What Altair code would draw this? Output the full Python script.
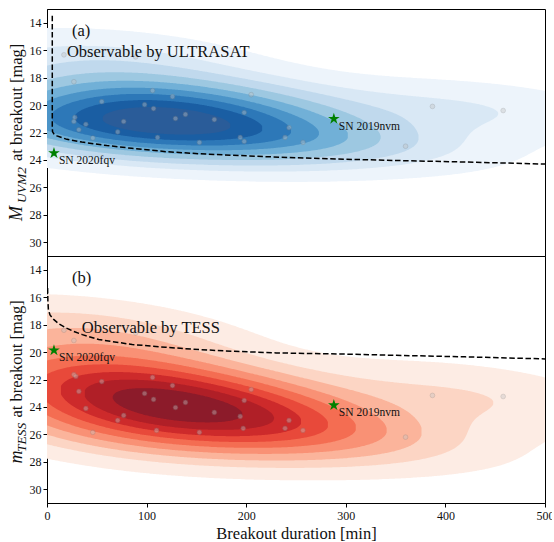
import numpy as np
import pandas as pd
import altair as alt

alt.data_transformers.disable_max_rows()

# ---------------- data ----------------
# Panel (a): ULTRASAT (UVM2) breakout magnitudes of the sample
dur_a = [17, 27, 89, 55, 28, 27, 39, 32, 46, 71, 77, 98, 106, 107, 111, 126, 129, 139,
         153, 168, 194, 198, 198, 205, 243, 239, 257, 387, 458, 360]
mag_a = [16.34, 18.3, 16.49, 19.75, 20.9, 21.2, 21.4, 21.8, 22.4, 21.96, 21.2, 19.97, 18.95,
         20.26, 22.36, 19.39, 20.98, 20.68, 22.72, 21.06, 22.36, 22.65, 20.55, 19.24, 21.65,
         22.36, 22.72, 20.1, 20.4, 23.0]

# Panel (b): TESS breakout magnitudes of the sample
dur_b = [17, 27, 89, 27, 29, 32, 39, 46, 55, 71, 77, 98, 106, 107, 110, 126, 129, 139,
         153, 168, 194, 198, 197, 205, 243, 239, 257, 387, 458, 360]
mag_b = [18.41, 19.16, 18.6, 21.64, 21.78, 22.87, 24.11, 25.85, 22.15, 24.98, 24.62, 23.02,
         21.85, 23.45, 25.71, 22.44, 24.04, 23.67, 25.85, 24.4, 24.69, 23.53, 25.56, 22.73,
         24.98, 25.56, 25.71, 23.16, 23.24, 26.2]

# Observed supernovae (green stars)
sn_names = ["SN 2020fqv", "SN 2019nvm"]
sn_dur = [7, 288]
sn_mag_a = [23.5, 21.0]
sn_mag_b = [19.87, 23.87]

# Detection limits (dashed curves)
lim_a_dur = [5.3, 5.3, 5.3, 5.3, 5.6, 7, 10, 20, 35, 60, 85, 120, 153, 200, 233, 300, 356, 420, 500]
lim_a_mag = [13.5, 17.0, 20.0, 21.6, 21.95, 22.1, 22.25, 22.5, 22.7, 22.95, 23.15, 23.4, 23.55,
             23.7, 23.8, 23.95, 24.05, 24.15, 24.3]
lim_b_dur = [0.6, 0.9, 1.4, 3, 7, 12, 19, 27, 35.5, 52, 85.6, 119, 152.6, 186, 230, 300, 357, 420, 500]
lim_b_mag = [15.33, 16.3, 16.9, 17.3, 17.64, 17.95, 18.24, 18.5, 18.73, 19.09, 19.45, 19.65,
             19.82, 19.94, 20.06, 20.15, 20.25, 20.35, 20.5]

y_ticks = [14, 16, 18, 20, 22, 24, 26, 28, 30]
x_ticks = [0, 100, 200, 300, 400, 500]

# 9 filled density bands (Blues / Reds colormaps)
blues = ["#edf4fb", "#d9e8f5", "#c0d9ed", "#9dc8e1", "#71b0d7", "#4b94c8", "#2d78b8", "#1a5ea3", "#2a5c99"]
reds = ["#fdece4", "#fcd5c4", "#fbb49b", "#f99175", "#f46d52", "#e8493a", "#cd2a2b", "#b01f27", "#8c1b2a"]

FONT = "Liberation Serif"
BW_ADJUST = 1.5
XW, YH = 498, 247
xscale = alt.Scale(domain=[0, 500], nice=False, zero=False)
yscale = alt.Scale(domain=[13, 31], reverse=True, nice=False, zero=False)


def kde_bands(xs, ys, nlev=10, thresh=0.05):
    """Gaussian KDE (Scott bandwidth) of the points, iso-proportion levels."""
    xs = np.asarray(xs, float)
    ys = np.asarray(ys, float)
    data = np.vstack([xs, ys])
    n = data.shape[1]
    factor = n ** (-1.0 / 6.0) * BW_ADJUST
    cov = np.cov(data) * factor ** 2
    inv = np.linalg.inv(cov)

    def dens(X, Y):
        out = np.zeros_like(X)
        for xi, yi in zip(xs, ys):
            dx = X - xi
            dy = Y - yi
            out += np.exp(-0.5 * (inv[0, 0] * dx * dx + 2 * inv[0, 1] * dx * dy + inv[1, 1] * dy * dy))
        return out

    bw = np.sqrt(np.diag(cov))
    gx = np.linspace(xs.min() - 3 * bw[0], xs.max() + 3 * bw[0], 200)
    gy = np.linspace(ys.min() - 3 * bw[1], ys.max() + 3 * bw[1], 200)
    GX, GY = np.meshgrid(gx, gy)
    D = dens(GX, GY)
    vals = np.sort(D.ravel())[::-1]
    cum = np.cumsum(vals) / vals.sum()
    q = np.linspace(thresh, 1, nlev)
    lv = np.take(vals, np.searchsorted(cum, 1 - q), mode="clip")

    xd = np.arange(0, 501, 1.0)
    yd = np.arange(12.0, 32.0001, 0.01)
    XD, YD = np.meshgrid(xd, yd)
    DD = dens(XD, YD)
    rows = []
    for k in range(nlev - 1):
        seg = 0
        prev = False
        for j, xv in enumerate(xd):
            idx = np.flatnonzero(DD[:, j] >= lv[k])
            if idx.size:
                if not prev:
                    seg += 1
                rows.append({"level": k, "seg": f"{k}-{seg}", "x": float(xv),
                             "lo": round(float(max(yd[idx[0]], 13.0)), 3),
                             "hi": round(float(min(yd[idx[-1]], 31.0)), 3)})
                prev = True
            else:
                prev = False
    return pd.DataFrame(rows)


STAR = ("M0,-1 L0.2245,-0.309 L0.951,-0.309 L0.3633,0.118 L0.588,0.809 L0,0.382 "
        "L-0.588,0.809 L-0.3633,0.118 L-0.951,-0.309 L-0.2245,-0.309 Z")


def panel(xs, ys, colors, sn_m, lim_x, lim_y, tag, obs_text, obs_x, obs_y,
          sym, sub, title_y, sub_y, rest_y, show_x):
    bands = kde_bands(xs, ys)
    if show_x:
        xaxis = alt.Axis(values=x_ticks, title="Breakout duration [min]", grid=False,
                         labelFlush=False, titlePadding=4, labelPadding=3)
    else:
        xaxis = None
    yaxis = alt.Axis(values=y_ticks, title=None, grid=False, labelPadding=2)
    X = lambda f: alt.X(f, scale=xscale, axis=xaxis)
    Y = lambda f: alt.Y(f, scale=yscale, axis=yaxis)

    layers = []
    for k in range(len(colors)):
        layers.append(
            alt.Chart(bands).transform_filter(alt.datum.level == k)
            .mark_area(color=colors[k], clip=True, interpolate="linear")
            .encode(x=X("x:Q"), y=Y("lo:Q"), y2="hi:Q", detail="seg:N")
        )

    pts = pd.DataFrame({"x": xs, "y": ys})
    layers.append(
        alt.Chart(pts).mark_point(shape="circle", filled=True, fill="#c4c4c4", stroke="#7a7a7a",
                                  strokeWidth=0.6, opacity=0.4, size=22)
        .encode(x=X("x:Q"), y=Y("y:Q"))
    )

    lim = pd.DataFrame({"x": lim_x, "y": lim_y, "i": list(range(len(lim_x)))})
    layers.append(
        alt.Chart(lim).mark_line(color="black", strokeWidth=1.5, strokeDash=[5.5, 2.6], clip=True)
        .encode(x=X("x:Q"), y=Y("y:Q"), order="i:Q")
    )

    sn = pd.DataFrame({"x": sn_dur, "y": sn_m, "name": sn_names})
    layers.append(
        alt.Chart(sn).mark_point(shape=STAR, filled=True, color="#008000", opacity=1, size=150)
        .encode(x=X("x:Q"), y=Y("y:Q"))
    )
    layers.append(
        alt.Chart(sn).mark_text(align="left", baseline="alphabetic", dx=5, dy=11,
                                font=FONT, fontSize=11.5, color="#111")
        .encode(x=X("x:Q"), y=Y("y:Q"), text="name:N")
    )

    ann = pd.DataFrame({"x": [25, obs_x], "y": [obs_y[0], obs_y[1]], "t": [tag, obs_text]})
    layers.append(
        alt.Chart(ann).mark_text(align="left", baseline="alphabetic", font=FONT, fontSize=16.5,
                                 color="#111")
        .encode(x=X("x:Q"), y=Y("y:Q"), text="t:N")
    )

    # y-axis title with italic symbol and subscript
    layers.append(
        alt.Chart(pd.DataFrame({"t": [sym]})).mark_text(
            align="left", baseline="alphabetic", angle=270, font=FONT, fontStyle="italic",
            fontSize=18, color="#111")
        .encode(x=alt.value(-25), y=alt.value(title_y), text="t:N")
    )
    layers.append(
        alt.Chart(pd.DataFrame({"t": [sub]})).mark_text(
            align="left", baseline="alphabetic", angle=270, font=FONT, fontStyle="italic",
            fontSize=13.5, color="#111")
        .encode(x=alt.value(-21.5), y=alt.value(sub_y), text="t:N")
    )
    layers.append(
        alt.Chart(pd.DataFrame({"t": ["at breakout [mag]"]})).mark_text(
            align="left", baseline="alphabetic", angle=270, font=FONT, fontSize=16.5,
            color="#111")
        .encode(x=alt.value(-25), y=alt.value(rest_y), text="t:N")
    )

    return alt.layer(*layers).properties(width=XW, height=YH)


top = panel(dur_a, mag_a, blues, sn_mag_a, lim_a_dur, lim_a_mag, "(a)",
            "Observable by ULTRASAT", 20, [14.97, 16.49], "M", "UVM2", 212, 194, 152, False)
bottom = panel(dur_b, mag_b, reds, sn_mag_b, lim_b_dur, lim_b_mag, "(b)",
               "Observable by TESS", 35, [14.95, 18.6], "m", "TESS", 207.5, 196, 161.5, True)

chart = (
    alt.vconcat(top, bottom, spacing=0, bounds="flush")
    .properties(padding={"left": 7, "top": 8, "right": -3, "bottom": 0})
    .configure_view(stroke="black", strokeWidth=1)
    .configure_axis(labelFont=FONT, labelFontSize=12, labelColor="#111", tickColor="black",
                    domainColor="black", tickSize=4, titleFont=FONT, titleFontSize=16.5,
                    titleFontWeight="normal", titleColor="#111")
)

chart.save("out.html", embed_options={"renderer": "svg", "actions": False})
